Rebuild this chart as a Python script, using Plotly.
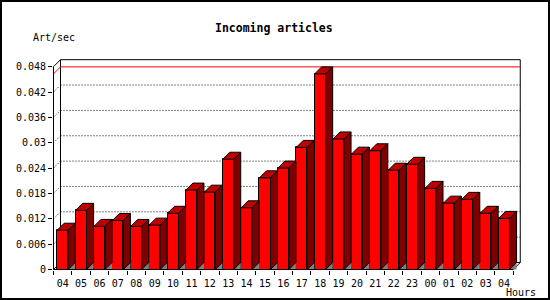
import plotly.graph_objects as go

hours = ["04", "05", "06", "07", "08", "09", "10", "11", "12", "13", "14", "15",
         "16", "17", "18", "19", "20", "21", "22", "23", "00", "01", "02", "03", "04"]
values = [0.0093, 0.0140, 0.0102, 0.0116, 0.0102, 0.0105, 0.0133, 0.0188, 0.0183,
          0.0261, 0.0146, 0.0217, 0.0240, 0.0289, 0.0463, 0.0309, 0.0273, 0.0281,
          0.0235, 0.0249, 0.0192, 0.0157, 0.0166, 0.0133, 0.0121]
ytick_vals = [0, 0.006, 0.012, 0.018, 0.024, 0.03, 0.036, 0.042, 0.048]
ytick_text = ["0", "0.006", "0.012", "0.018", "0.024", "0.03", "0.036", "0.042", "0.048"]
title_text = "Incoming articles"
ytitle = "Art/sec"
xtitle = "Hours"

W, H = 550, 300
ML, MR, MT, MB = 53, 29, 55, 30
PW, PH = W - ML - MR, H - MT - MB
SX = 18.39          # px per category
SY = 4225.0         # px per unit
x0 = ML + 0.5       # pixel of x=-0.5
y0 = H - MB - 0.5   # pixel of y=0
xr = [-0.5 - (x0 - ML) / SX, -0.5 + (W - MR - x0) / SX]
yr = [-(H - MB - y0) / SY, (y0 - MT) / SY]

DX = 7 / SX
DY = 7 / SY
HW = 0.3
n = len(values)
idx = list(range(n))
ymax_axis = ytick_vals[-1]

FONT = "DejaVu Sans Mono"

def px2paper(px, py):
    return (px - ML) / PW, (H - MB - py) / PH

fig = go.Figure()

# floor shadows
sx, sy = [], []
for i, v in enumerate(values):
    sx += [i + HW, i + HW + DX, i + HW + DX, i + HW, None]
    sy += [0, DY, 0, 0, None]
fig.add_trace(go.Scatter(x=sx, y=sy, mode="lines", fill="toself", fillcolor="#808080",
                         line=dict(color="#808080", width=0), hoverinfo="skip", showlegend=False))

# front faces
fig.add_trace(go.Bar(x=idx, y=values, width=2 * HW, marker=dict(color="#FF0000", line=dict(color="black", width=1)),
                     showlegend=False))

# top faces
tx, ty = [], []
for i, v in enumerate(values):
    tx += [i - HW, i - HW + DX, i + HW + DX, i + HW, i - HW, None]
    ty += [v, v + DY, v + DY, v, v, None]
fig.add_trace(go.Scatter(x=tx, y=ty, mode="lines", fill="toself", fillcolor="#C00000",
                         line=dict(color="black", width=1), hoverinfo="skip", showlegend=False))

# side faces
rx, ry = [], []
for i, v in enumerate(values):
    rx += [i + HW, i + HW + DX, i + HW + DX, i + HW, i + HW, None]
    ry += [v, v + DY, DY, 0, v, None]
fig.add_trace(go.Scatter(x=rx, y=ry, mode="lines", fill="toself", fillcolor="#800000",
                         line=dict(color="black", width=1), hoverinfo="skip", showlegend=False))

shapes = []
L, R = -0.5, n - 0.5
# back wall
shapes.append(dict(type="rect", xref="x", yref="y", x0=L + DX, x1=R + DX, y0=DY, y1=ymax_axis + DY,
                   fillcolor="white", line=dict(color="black", width=1), layer="below"))
# grid lines
for v in ytick_vals[1:-1]:
    shapes.append(dict(type="line", xref="x", yref="y", x0=L + DX, x1=R + DX, y0=v + DY, y1=v + DY,
                       line=dict(color="black", width=1, dash="1px,2px"), layer="below"))
    shapes.append(dict(type="line", xref="x", yref="y", x0=L, x1=L + DX, y0=v, y1=v + DY,
                       line=dict(color="black", width=1, dash="1px,2px"), layer="below"))
# max line (red)
vmax = max(values)
shapes.append(dict(type="line", xref="x", yref="y", x0=L + DX, x1=R + DX, y0=vmax + DY, y1=vmax + DY,
                   line=dict(color="#FF0000", width=1), layer="below"))
shapes.append(dict(type="line", xref="x", yref="y", x0=L, x1=L + DX, y0=vmax, y1=vmax + DY,
                   line=dict(color="#FF0000", width=1), layer="below"))
# side wall edges
shapes.append(dict(type="line", xref="x", yref="y", x0=L, x1=L + DX, y0=ymax_axis, y1=ymax_axis + DY,
                   line=dict(color="black", width=1), layer="below"))
shapes.append(dict(type="line", xref="x", yref="y", x0=L, x1=L + DX, y0=0, y1=DY,
                   line=dict(color="black", width=1), layer="below"))
shapes.append(dict(type="line", xref="x", yref="y", x0=R, x1=R + DX, y0=0, y1=DY,
                   line=dict(color="black", width=1), layer="below"))
# front axes
shapes.append(dict(type="line", xref="x", yref="y", x0=L, x1=L, y0=0, y1=ymax_axis,
                   line=dict(color="black", width=1)))
shapes.append(dict(type="line", xref="x", yref="y", x0=L, x1=R, y0=0, y1=0,
                   line=dict(color="black", width=1)))
# outer frame
fx0, fy0 = px2paper(1, 1)
fx1, fy1 = px2paper(549, 299)
shapes.append(dict(type="rect", xref="paper", yref="paper", x0=fx0, x1=fx1, y0=fy1, y1=fy0,
                   line=dict(color="black", width=2)))

annotations = []
ax, ay = px2paper(274, 27.5)
annotations.append(dict(text="<b>" + title_text + "</b>", xref="paper", yref="paper", x=ax, y=ay,
                        showarrow=False, xanchor="center", yanchor="middle",
                        font=dict(family=FONT, size=11.5, color="black")))
ax, ay = px2paper(30.5, 37.3)
annotations.append(dict(text=ytitle, xref="paper", yref="paper", x=ax, y=ay, showarrow=False,
                        xanchor="left", yanchor="middle", font=dict(family=FONT, size=10, color="black")))
ax, ay = px2paper(504, 292.3)
annotations.append(dict(text=xtitle, xref="paper", yref="paper", x=ax, y=ay, showarrow=False,
                        xanchor="left", yanchor="middle", font=dict(family=FONT, size=10, color="black")))

fig.update_layout(
    width=W, height=H, margin=dict(l=ML, r=MR, t=MT, b=MB, pad=0),
    paper_bgcolor="white", plot_bgcolor="white",
    shapes=shapes, annotations=annotations, showlegend=False, bargap=0,
    xaxis=dict(range=xr, tickmode="array", tickvals=idx, ticktext=hours, showgrid=False, zeroline=False,
               showline=False, ticks="outside", ticklen=4, tickcolor="rgba(0,0,0,0)",
               tickfont=dict(family=FONT, size=10, color="black"),
               minor=dict(ticks="outside", tick0=-0.5, dtick=1, ticklen=4, tickcolor="black", tickwidth=1,
                          showgrid=False)),
    yaxis=dict(range=yr, tickmode="array", tickvals=ytick_vals, ticktext=ytick_text, showgrid=False,
               zeroline=False, showline=False, ticks="outside", ticklen=4, tickcolor="black",
               tickfont=dict(family=FONT, size=10, color="black")),
)

fig.write_html("out.html")
